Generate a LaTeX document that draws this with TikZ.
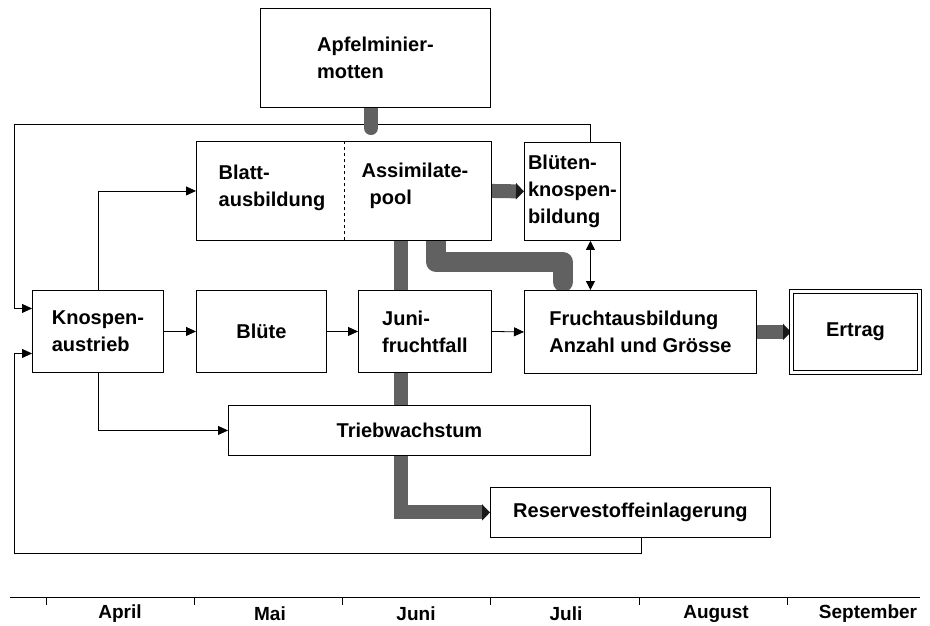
\documentclass[tikz,border=0pt]{standalone}
\usepackage{fontspec}
\setmainfont{Liberation Sans}
\usetikzlibrary{arrows.meta,backgrounds}
\begin{document}
\begin{tikzpicture}[x=1pt,y=-1pt,
  lbl/.style={font=\bfseries\fontsize{20}{27}\selectfont,align=left,inner sep=0pt},
  box/.style={lbl,draw,line width=0.9pt,fill=white,anchor=north west},
  arr/.style={line width=0.8pt,-{Triangle[length=10pt,width=9pt]}},
  dbl/.style={line width=0.8pt,{Triangle[length=9pt,width=9pt]}-{Triangle[length=9pt,width=9pt]}},
  fat/.style={line width=14pt,draw=black!62},
  fattip/.style={fat,-{Triangle[length=8pt,width=16pt,color=black!90]}},
  month/.style={font=\bfseries\fontsize{19}{21}\selectfont,inner sep=0pt}]
\useasboundingbox (0,0) rectangle (930,625);

% boxes
\node[box,minimum width=230pt,minimum height=99pt] (apf) at (260,8) {Apfelminier-\\motten};
\node[box,minimum width=295pt,minimum height=99pt] (bap) at (196,141) {};
\draw[dashed,line width=0.8pt] (344,141) -- (344,240);
\node[lbl] (blatt) at (272,188) {Blatt-\\ausbildung};
\node[lbl] (assim) at (415,186) {Assimilate-\\\hspace*{8pt}pool};
\node[box,minimum width=96pt,minimum height=98pt] (blueten) at (524,142) {Blüten-\\knospen-\\bildung};
\node[box,minimum width=131pt,minimum height=82pt] (knosp) at (32,290) {Knospen-\\austrieb};
\node[box,minimum width=130pt,minimum height=82pt] (bluete) at (196,290) {Blüte};
\node[box,minimum width=133pt,minimum height=82pt] (juni) at (358,290) {Juni-\\fruchtfall};
\node[box,minimum width=232pt,minimum height=83pt] (frucht) at (524,290) {Fruchtausbildung\\Anzahl und Grösse};
\node[box,double,double distance=2.5pt,minimum width=128pt,minimum height=81pt] (ertrag) at (791,291) {Ertrag};
\node[box,minimum width=362pt,minimum height=50pt] (trieb) at (228,405) {Triebwachstum};
\node[box,minimum width=280pt,minimum height=50pt] (reserve) at (490,487) {Reservestoffeinlagerung};

% helper coordinates
\coordinate (tl) at (14,124);
\coordinate (bl) at (14,553);
\coordinate (jv) at ([xshift=-24pt]juni.north);
\coordinate (js) at ([xshift=-24pt]juni.south);
\coordinate (la) at (436,240);
\coordinate (lb) at (436,262);
\coordinate (lc) at (563,262);
\coordinate (ld) at (563,282);
\coordinate (am) at (371,128);
\coordinate (t0) at (10,597);
\coordinate (t1) at (920,597);

\begin{scope}[on background layer]
  % thin connectors
  \draw[arr] ([xshift=18pt]blueten.north) |- (tl) |- ([yshift=23pt]knosp.west);
  \draw[arr] ([xshift=11pt]reserve.south) |- (bl) |- ([yshift=-22pt]knosp.west);
  \draw[arr] (knosp.north) |- (bap.west);
  \draw[arr] (knosp.south) |- (trieb.west);
  \draw[arr] (knosp.east) -- (bluete.west);
  \draw[arr] (bluete.east) -- (juni.west);
  \draw[arr] (juni.east) -- (frucht.west);
  \draw[dbl] ([xshift=18pt]blueten.south) -- ([xshift=18pt]blueten.south |- frucht.north);
  % fat connectors
  \draw[fat,line cap=round] (apf.south -| am) -- (am);
  \draw[fattip] (bap.east) -- (blueten.west);
  \draw[fat] (jv) -- (jv |- bap.south);
  \draw[fattip] (js) |- (reserve.west);
  \draw[fat,line width=20pt,line cap=round,line join=round] (la) -- (lb) -- (lc) -- (ld);
  \draw[fattip] (frucht.east) -- (ertrag.west);
\end{scope}

% timeline
\draw[line width=0.9pt] (t0) -- (t1);
\foreach \x in {46,194,342,490,639,787}
  \draw[line width=0.6pt] (\x,597) -- (\x,605);
\node[month] (m1) at (120,614) {April};
\node[month] (m2) at (270,614) {Mai};
\node[month] (m3) at (416,614) {Juni};
\node[month] (m4) at (566,614) {Juli};
\node[month] (m5) at (716,614) {August};
\node[month] (m6) at (868,614) {September};
\end{tikzpicture}
\end{document}
